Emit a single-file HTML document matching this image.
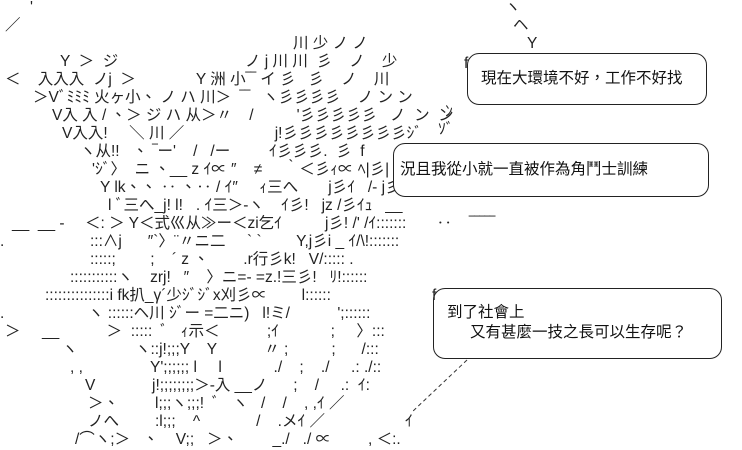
<!DOCTYPE html>
<html><head><meta charset="utf-8"><style>
html,body{margin:0;padding:0;background:#fff;}
#c{position:relative;width:742px;height:450px;overflow:hidden;font-family:"Liberation Sans","Noto Sans CJK TC",sans-serif;color:#222;}
.t{position:absolute;white-space:pre;font-size:15.5px;line-height:18px;}
.b{position:absolute;border:1px solid #222;border-radius:12px;}
.m{position:absolute;white-space:pre;font-size:15.5px;line-height:18px;font-family:"Liberation Sans","Noto Sans CJK TC",sans-serif;color:#111;}
</style></head><body><div id="c">
<div class="t" style="left:30px;top:-1px">'</div><div class="t" style="left:505px;top:-1px">ヽ</div>
<div class="t" style="left:5px;top:17px">／</div><div class="t" style="left:513px;top:17px">ヘ</div>
<div class="t" style="left:293px;top:35px">川 少 ノ ノ</div><div class="t" style="left:527px;top:35px">Y</div>
<div class="t" style="left:60px;top:53px">Y  ＞  ジ</div><div class="t" style="left:245px;top:53px">ノ j 川 川  彡    ノ    少</div>
<div class="t" style="left:5px;top:71px">＜    入入入  ノj  ＞              Y 洲 小‾‾ イ 彡   彡    ノ    川</div>
<div class="t" style="left:33px;top:89px">＞Vﾞﾐﾐﾐ 火ヶ小、 ノ ハ 川＞  ‾‾   ヽ彡彡彡彡    ノ ン ン</div>
<div class="t" style="left:52px;top:107px">V入 入 / 、＞ ジ ハ 从＞〃    /          '彡彡彡彡彡   ノ  ン  ン</div>
<div class="t" style="left:62px;top:125px">V入入!     ＼ 川 ／                     j!彡彡彡彡彡彡彡彡ｼﾞ</div>
<div class="t" style="left:80px;top:143px">ヽ从!!   、 ‾ー'    /   /ー         ｲ彡彡彡.  彡  f</div>
<div class="t" style="left:92px;top:161px">'ｼﾞ〉  ニ 、__ z ｲ∝ ″    ≠     ｀＜彡ｨ∝ ﾍ|彡|</div>
<div class="t" style="left:100px;top:179px">Y lk、、 ‥ 、‥ / ｲ″     ｨ三へ       j彡ｲ   /- j彡乂</div>
<div class="t" style="left:108px;top:197px">l ﾞ三へ_j! l!   . ｲ三＞-ヽ    ｲ彡!   jz /彡ｲｭ   __</div>
<div class="t" style="left:12px;top:215px">__  __ -</div><div class="t" style="left:85px;top:215px">＜: ＞ Y＜式巛从≫ー＜zi乞ｲ          j彡! /' /ｲ:::::::       ‥    ‾‾‾‾‾</div>
<div class="t" style="left:0px;top:233px">.</div><div class="t" style="left:90px;top:233px">:::∧j      ″`〉¨〃ニ二     ` `        Y,j彡i _ ｲ/\!:::::::</div>
<div class="t" style="left:90px;top:251px">:::::;        ;    ´ z 、        .r行彡k!   V/::::: .</div>
<div class="t" style="left:70px;top:269px">:::::::::::ヽ    zrj!   ″    〉ニ=- =z.!三彡!   ﾘ!::::::</div>
<div class="t" style="left:45px;top:287px">:::::::::::::::i fk扒_γ´少ｼﾞｼﾞx刈彡∝        l::::::</div>
<div class="t" style="left:0px;top:305px">.</div><div class="t" style="left:88px;top:305px">ヽ ::::::ヘ川 ｼﾞー =二ニ)   l!ミ/           ';::::::</div>
<div class="t" style="left:5px;top:323px">＞     __           ＞  :::::  ﾞ   ｨ示＜           ;ｲ            ;     〉:::</div>
<div class="t" style="left:62px;top:341px">ヽ</div><div class="t" style="left:135px;top:341px">ヽ::j!;;;Y    Y           〃 ;          ;      /:::</div>
<div class="t" style="left:70px;top:359px">, ,</div><div class="t" style="left:150px;top:359px">Y';;;;;; l     l            ./    ;    ./     .: ./::</div>
<div class="t" style="left:85px;top:377px">V</div><div class="t" style="left:152px;top:377px">j!;;;;;;;;＞-入 __ノ      ;    /     .:  ｲ:</div>
<div class="t" style="left:88px;top:395px">＞、</div><div class="t" style="left:155px;top:395px">l;;;ヽ;;;!  ﾞ   ヽ   /    /    , ,ｲ ／</div>
<div class="t" style="left:88px;top:413px">ノへ</div><div class="t" style="left:155px;top:413px">:l;;;    ^             /    .メｲ ／</div><div class="t" style="left:405px;top:413px">ｲ</div>
<div class="t" style="left:75px;top:431px">/⌒ヽ;＞   、    V;;   ＞、        _./   ./ ∝</div><div class="t" style="left:368px;top:431px">, ＜:.</div>
<div class="t" style="left:445px;top:103px">ﾝ</div><div class="t" style="left:438px;top:121px">ｿﾞ</div>
<svg style="position:absolute;left:0;top:0" width="742" height="450"><line x1="467" y1="360" x2="412" y2="412" stroke="#333" stroke-dasharray="4,3"/></svg>
<div class="b" style="left:467px;top:53px;width:238px;height:50px;background:#fff"></div>
<div class="t" style="left:464px;top:55px">f</div>
<div class="m" style="left:481px;top:70px">現在大環境不好，工作不好找</div>
<div class="b" style="left:393px;top:143px;width:314px;height:52px;background:#fff"></div>
<div class="m" style="left:400px;top:161px">況且我從小就一直被作為角鬥士訓練</div>
<div class="b" style="left:433px;top:288px;width:287px;height:69px;background:#fff"></div>
<div class="t" style="left:432px;top:287px">f</div>
<div class="m" style="left:447px;top:304px">到了社會上</div>
<div class="m" style="left:470px;top:324px">又有甚麼一技之長可以生存呢？</div>
</div></body></html>
